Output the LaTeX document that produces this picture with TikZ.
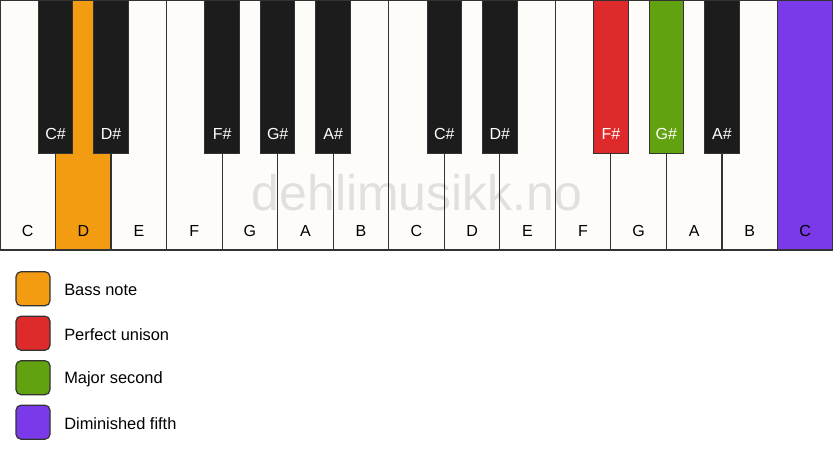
\documentclass[tikz,border=0pt]{standalone}
\usepackage{fontspec}
\setmainfont{Liberation Sans}
\usetikzlibrary{positioning}
\definecolor{keywhite}{HTML}{FDFCF8}
\definecolor{keyblack}{HTML}{1C1C1C}
\definecolor{keyline}{HTML}{333333}
\definecolor{bassorange}{HTML}{F39C12}
\definecolor{unisonred}{HTML}{DE2A2A}
\definecolor{secondgreen}{HTML}{62A10F}
\definecolor{fifthpurple}{HTML}{7B3AEA}

\begin{document}
\begin{tikzpicture}[
x=1pt, y=1pt, font=\fontsize{16}{19}\selectfont,
whitekey/.style={rectangle, draw=keyline, fill=keywhite, line width=1.2pt, anchor=north west, minimum width=55.53pt, minimum height=250pt, inner sep=0pt, outer sep=0pt, label={[anchor=base, label distance=-14pt]south:#1}},
blackkey/.style={rectangle, draw=keyline, fill=keyblack, line width=1pt, anchor=north, minimum width=34.5pt, minimum height=153pt, inner sep=0pt, outer sep=0pt, label={[anchor=base, label distance=-14pt, text=white]south:#1}},
legendbox/.style={rectangle, draw=keyline, line width=1.2pt, rounded corners=5pt, minimum size=34pt, inner sep=0pt},
legendtext/.style={inner sep=0pt, anchor=west, font=\fontsize{16.4}{19}\selectfont}
]
    \useasboundingbox (0,0) rectangle (833,-461);

    \node [whitekey=C] (c1) at (0,0) {};
    \node [whitekey=D, fill=bassorange] (d1) at (55.53,0) {};
    \node [whitekey=E] (e1) at (111.07,0) {};
    \node [whitekey=F] (f1) at (166.6,0) {};
    \node [whitekey=G] (g1) at (222.13,0) {};
    \node [whitekey=A] (a1) at (277.67,0) {};
    \node [whitekey=B] (b1) at (333.2,0) {};
    \node [whitekey=C] (c2) at (388.73,0) {};
    \node [whitekey=D] (d2) at (444.27,0) {};
    \node [whitekey=E] (e2) at (499.8,0) {};
    \node [whitekey=F] (f2) at (555.33,0) {};
    \node [whitekey=G] (g2) at (610.87,0) {};
    \node [whitekey=A] (a2) at (666.4,0) {};
    \node [whitekey=B] (b2) at (721.93,0) {};
    \node [whitekey=C, fill=fifthpurple] (c3) at (777.47,0) {};

    \node [blackkey=C\#] (cs1) at (55.53,0) {};
    \node [blackkey=D\#] (ds1) at (111.07,0) {};
    \node [blackkey=F\#] (fs1) at (222.13,0) {};
    \node [blackkey=G\#] (gs1) at (277.67,0) {};
    \node [blackkey=A\#] (as1) at (333.2,0) {};
    \node [blackkey=C\#] (cs2) at (444.27,0) {};
    \node [blackkey=D\#] (ds2) at (499.8,0) {};
    \node [blackkey=F\#, fill=unisonred] (fs2) at (610.87,0) {};
    \node [blackkey=G\#, fill=secondgreen] (gs2) at (666.4,0) {};
    \node [blackkey=A\#] (as2) at (721.93,0) {};

    \node [anchor=base, text=black, opacity=0.11, font=\fontsize{50}{60}\selectfont] (mark) at (417,-210) {dehlimusikk.no};

    \node [legendbox, fill=bassorange] (bass) at (33,-288.7) {};
    \node [legendbox, fill=unisonred] (unison) at (33,-333.2) {};
    \node [legendbox, fill=secondgreen] (second) at (33,-377.7) {};
    \node [legendbox, fill=fifthpurple] (fifth) at (33,-422.2) {};
    \node [legendtext, right=13.5pt of bass, yshift=-1.5pt] (bassText) {Bass note};
    \node [legendtext, right=13.5pt of unison, yshift=-1.5pt] (unisonText) {Perfect unison};
    \node [legendtext, right=13.5pt of second, yshift=-1.5pt] (secondText) {Major second};
    \node [legendtext, right=13.5pt of fifth, yshift=-1.5pt] (fifthText) {Diminished fifth};
\end{tikzpicture}
\end{document}
